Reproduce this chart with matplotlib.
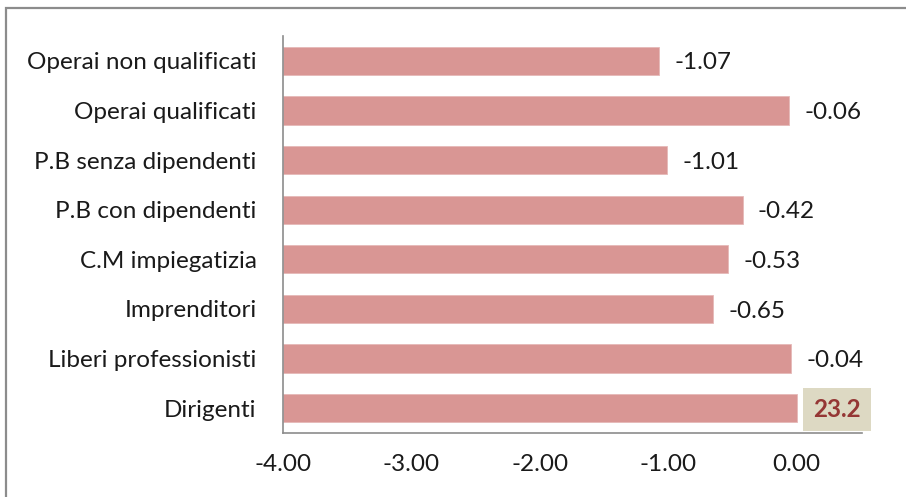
import matplotlib
matplotlib.use("Agg")
import matplotlib.pyplot as plt
from matplotlib.patches import Rectangle

categories = ["Operai non qualificati", "Operai qualificati", "P.B senza dipendenti",
              "P.B con dipendenti", "C.M impiegatizia", "Imprenditori",
              "Liberi professionisti", "Dirigenti"]
values = [-1.07, -0.06, -1.01, -0.42, -0.53, -0.65, -0.04, 0.0]
value_labels = ["-1.07", "-0.06", "-1.01", "-0.42", "-0.53", "-0.65", "-0.04", "23.2"]
xticks = [-4.0, -3.0, -2.0, -1.0, 0.0]
xtick_labels = ["-4.00", "-3.00", "-2.00", "-1.00", "0.00"]

plt.rcParams['font.family'] = ['Lato', 'DejaVu Sans']
FS = 17.5

fig = plt.figure(figsize=(9.06, 4.97), dpi=100)
fig.patch.set_facecolor("white")
# outer frame
fig.add_artist(Rectangle((6/906, -0.05), 1.0, (497-8)/497 + 0.05, transform=fig.transFigure,
                         fill=False, edgecolor="#8c8c8c", linewidth=1.6))

ax = fig.add_axes([283/906, (497-433)/497, (862-283)/906, (433-36)/497])
base = -4.0
n = len(categories)
ypos = list(range(n))[::-1]
ax.barh(ypos, [v - base for v in values], left=base, height=0.57,
        color="#D99694", edgecolor="#E6B9B8", linewidth=0.6)

ax.set_xlim(-4.0, 0.51)
ax.set_ylim(-0.5, n - 0.5)
ax.set_yticks(ypos)
ax.set_yticklabels(categories, fontsize=FS, color="#1a1a1a")
ax.set_xticks(xticks)
ax.set_xticklabels(xtick_labels, fontsize=FS, color="#1a1a1a")
ax.tick_params(axis="both", length=0)
ax.tick_params(axis="y", pad=19)
ax.tick_params(axis="x", pad=15)
for s in ["top", "right"]:
    ax.spines[s].set_visible(False)
for s in ["left", "bottom"]:
    ax.spines[s].set_color("#8c8c8c")
    ax.spines[s].set_linewidth(1.2)

for y, v, lab in zip(ypos, values, value_labels):
    if lab == "23.2":
        ax.annotate(lab, (v, y), xytext=(12, -1), textcoords="offset points",
                    va="center", ha="left", fontsize=FS, fontweight="bold", color="#953735",
                    bbox=dict(boxstyle="square,pad=0.4", facecolor="#DDD9C3", edgecolor="none"),
                    annotation_clip=False)
    else:
        ax.annotate(lab, (v, y), xytext=(11, -1.5), textcoords="offset points",
                    va="center", ha="left", fontsize=FS, color="#1a1a1a",
                    annotation_clip=False)

fig.savefig("out.png", dpi=100)
